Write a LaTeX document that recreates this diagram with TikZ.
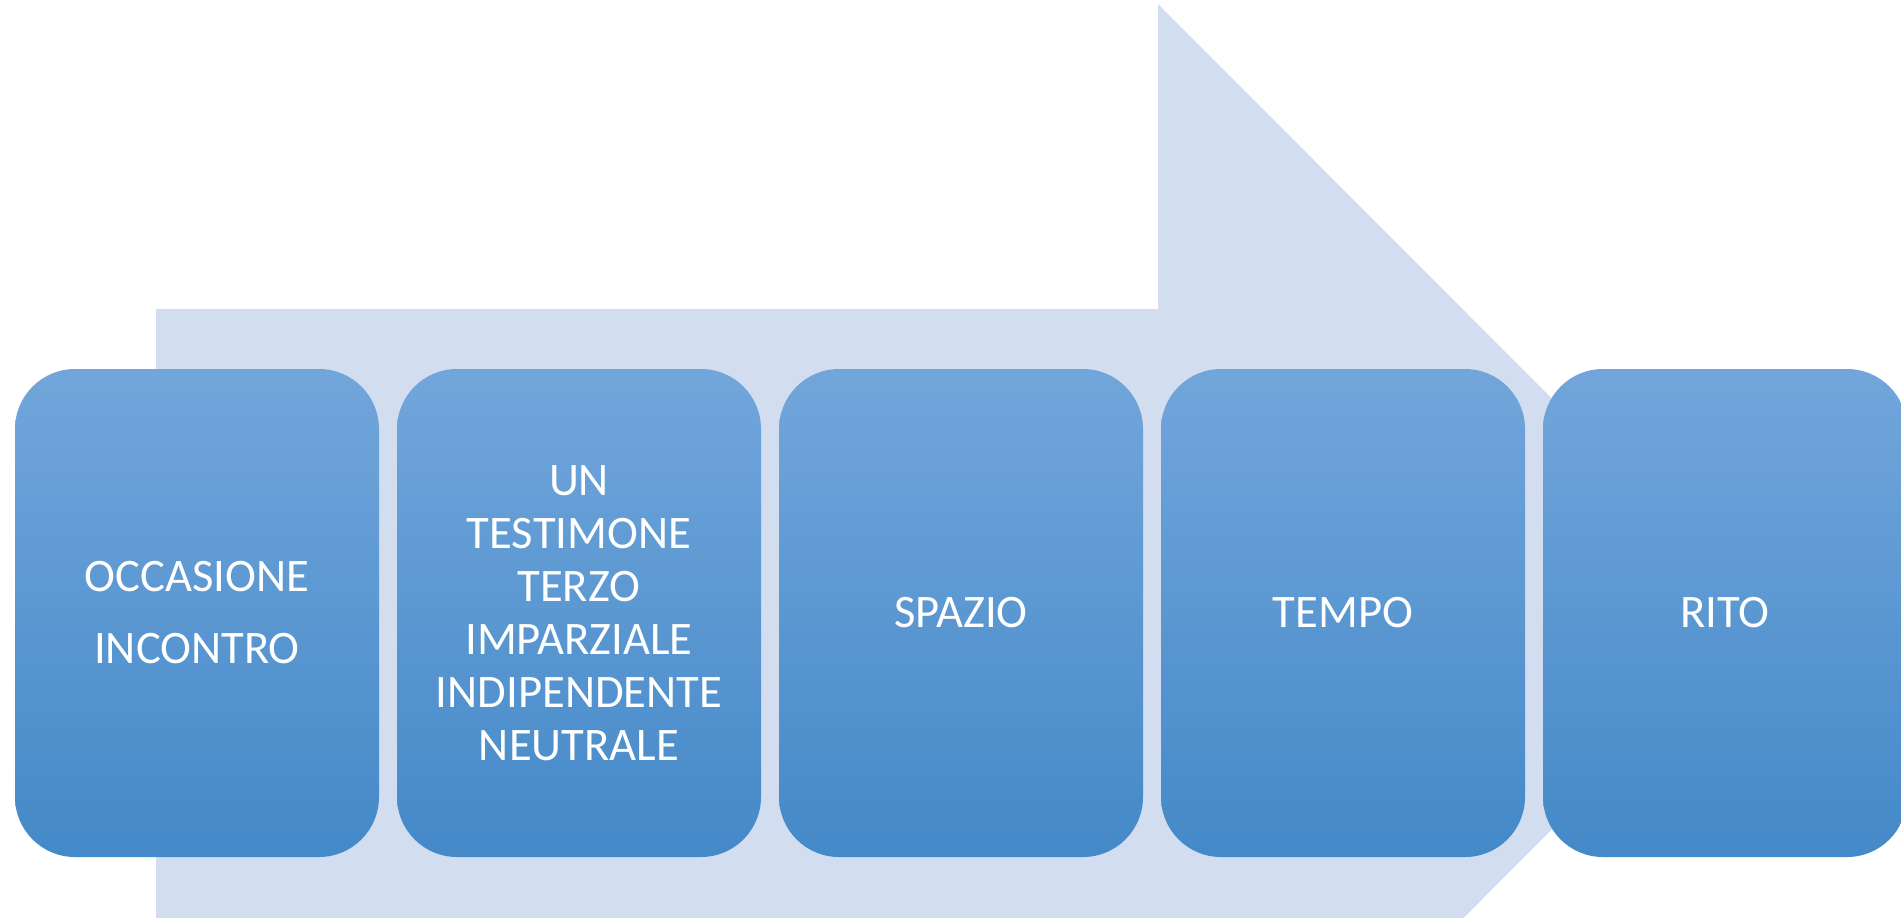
\documentclass[tikz,border=0pt]{standalone}
\usepackage{fontspec}
\setmainfont{Carlito}
\definecolor{arrowbg}{HTML}{D2DEEF}
\definecolor{boxtop}{HTML}{72A6DB}
\definecolor{boxmid}{HTML}{5A9CDC}
\definecolor{boxbot}{HTML}{4489C8}
\begin{document}
\begin{tikzpicture}[x=0.5pt,y=-0.5pt,
  stepbox/.style={rectangle, rounded corners=30pt, minimum width=182pt,
    minimum height=244pt, inner sep=0pt, top color=boxtop, middle color=boxmid,
    bottom color=boxbot, text=white, align=center,
    font=\fontsize{23.3}{26.5}\selectfont}]
\useasboundingbox (0,0) rectangle (1901,917);
\clip (0,0) rectangle (1901,917);
\fill[white] (0,0) rectangle (1901,917);
\fill[arrowbg] (156,309) -- (1158,309) -- (1158,4) -- (1767,614) -- (1158,1224) -- (1158,919) -- (156,919) -- cycle;
\node[stepbox, font=\fontsize{23.3}{36}\selectfont] (b1) at (197,613) {OCCASIONE\\INCONTRO};
\node[stepbox] (b2) at (579,613) {UN\\TESTIMONE\\TERZO\\IMPARZIALE\\INDIPENDENTE\\NEUTRALE};
\node[stepbox] (b3) at (961,613) {SPAZIO};
\node[stepbox] (b4) at (1343,613) {TEMPO};
\node[stepbox] (b5) at (1725,613) {RITO};
\end{tikzpicture}
\end{document}
